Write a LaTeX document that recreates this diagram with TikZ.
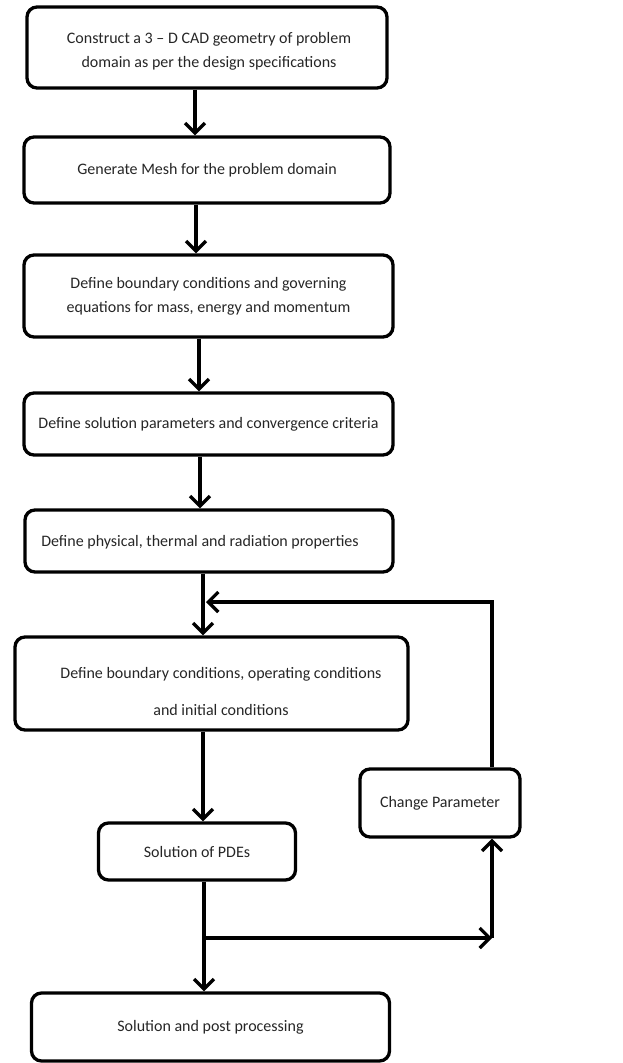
\documentclass[tikz,border=0pt]{standalone}
\usepackage{fontspec}
\setmainfont{Carlito}
\usetikzlibrary{arrows.meta,calc}
\begin{document}
\begin{tikzpicture}[x=1pt,y=-1pt,
  box/.style={draw, line width=3.3pt, rounded corners=10pt, inner sep=0pt,
    font=\fontsize{16}{24}\selectfont, text=black!85, align=center},
  txt/.style={inner sep=0pt, font=\fontsize{16}{24}\selectfont, text=black!85, align=center},
  arr/.style={line width=3.3pt, -{Straight Barb[length=10pt,width=20pt,line width=3.3pt]}}]
\useasboundingbox (0,0) rectangle (623,1063);
\node[box, minimum width=360pt, minimum height=81pt] (b1) at (207,47.5) {};
\node[txt] (t1) at (209,51.5)
  {Construct a 3 -- D CAD geometry of problem\\domain as per the design specifications};
\node[box, minimum width=366pt, minimum height=66pt] (b2) at (207,170)
  {Generate Mesh for the problem domain};
\node[box, minimum width=369pt, minimum height=82pt] (b3) at (208.5,296)
  {Define boundary conditions and governing\\equations for mass, energy and momentum};
\node[box, minimum width=369pt, minimum height=62pt] (b4) at (208.5,424)
  {Define solution parameters and convergence criteria};
\node[box, minimum width=368pt, minimum height=62pt] (b5) at (209,541) {};
\node[txt] (t5) at (200,542) {Define physical, thermal and radiation properties};
\node[box, minimum width=393pt, minimum height=93pt] (b6) at (211.5,683.5) {};
\node[txt] (t6) at (221,691.5)
  {Define boundary conditions, operating conditions\\[13pt]and initial conditions};
\node[box, minimum width=160pt, minimum height=68pt] (cp) at (440,803)
  {Change Parameter};
\node[box, minimum width=197pt, minimum height=57pt] (b7) at (197,851.5)
  {Solution of PDEs};
\node[box, minimum width=358pt, minimum height=68pt] (b8) at (210.5,1027)
  {Solution and post processing};
\coordinate (x1) at (195,0);
\coordinate (x2) at (196,0);
\coordinate (x3) at (199,0);
\coordinate (x4) at (200,0);
\coordinate (x5) at (203,0);
\coordinate (x7) at (204,0);
\coordinate (j1) at (206,602);
\coordinate (j2) at (492,602);
\coordinate (j3) at (204,938);
\coordinate (j4) at (492,938);
\draw[arr] (b1.south -| x1) -- (b2.north -| x1);
\draw[arr] (b2.south -| x2) -- (b3.north -| x2);
\draw[arr] (b3.south -| x3) -- (b4.north -| x3);
\draw[arr] (b4.south -| x4) -- (b5.north -| x4);
\draw[arr] (b5.south -| x5) -- (b6.north -| x5);
\draw[arr] (b6.south -| x5) -- (b7.north -| x5);
\draw[arr] (b7.south -| x7) -- (b8.north -| x7);
\draw[arr] (cp.north -| j2) -- (j2) -- (j1);
\draw[arr] (j3) -- (j4);
\draw[arr] (j4) -- (cp.south -| j4);
\end{tikzpicture}
\end{document}
